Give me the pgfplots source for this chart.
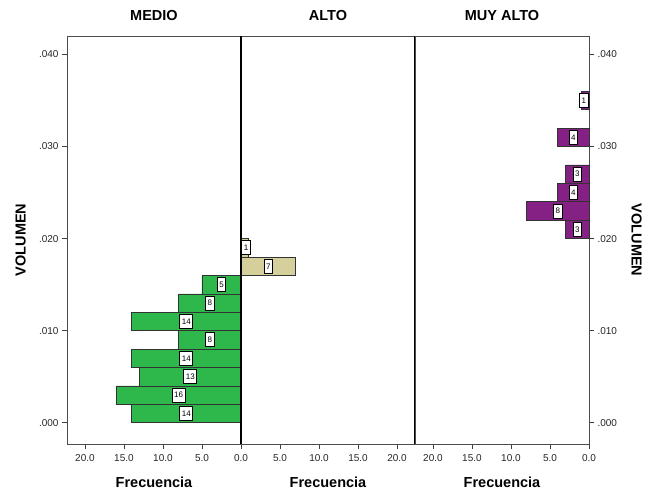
\documentclass[border=0pt]{standalone}
\usepackage{fontspec}
\setmainfont{Liberation Sans}
\usepackage{pgfplots}
\usepackage{pgfplotstable}
\pgfplotsset{compat=1.18}
\definecolor{cmedio}{RGB}{46,184,75}
\definecolor{calto}{RGB}{213,207,156}
\definecolor{cmuy}{RGB}{133,32,133}

\pgfplotstableread{
y f
0.001 14
0.003 16
0.005 13
0.007 14
0.009 8
0.011 14
0.013 8
0.015 5
}\medio
\pgfplotstableread{
y f
0.017 7
0.019 1
}\alto
\pgfplotstableread{
y f
0.021 3
0.023 8
0.025 4
0.027 3
0.031 4
0.035 1
}\muyalto

\pgfplotsset{
 panel/.style={
  scale only axis, width=174pt, height=408pt,
  xmin=0, xmax=22.3, ymin=-0.0023, ymax=0.0420,
  scaled y ticks=false, scaled x ticks=false,
  xtick={0,5,10,15,20}, xticklabels={0.0,5.0,10.0,15.0,20.0},
  ytick={0,0.01,0.02,0.03,0.04}, yticklabels={.000,.010,.020,.030,.040},
  tick align=outside, major tick length=5pt,
  xtick pos=bottom,
  tick style={black!75, line width=0.8pt},
  axis line style={black!70, line width=0.8pt},
  ticklabel style={font=\fontsize{10}{12}\selectfont, text=black!85},
  xticklabel style={yshift=-1.5pt},
  /pgf/number format/assume math mode=true,
  title style={font=\bfseries\fontsize{14.5}{16}\selectfont, at={(0.5,1)}, anchor=base, yshift=9pt},
  xlabel={Frecuencia},
  every axis x label/.style={at={(axis description cs:0.5,0)}, anchor=base, yshift=-43pt, font=\bfseries\fontsize{14.5}{16}\selectfont},
  clip=false,
  anchor=south west,
 },
 barsty/.style={xbar, bar width=0.002, bar shift=0pt, draw=black!80, line width=0.7pt, fill=#1},
 lab/.style={draw=none, nodes near coords, point meta=explicit symbolic,
   nodes near coords style={anchor=center, font=\fontsize{8}{9}\selectfont, fill=white, draw=black, line width=0.9pt, inner xsep=2pt, inner ysep=0pt, minimum height=14pt}},
}

\begin{document}
\begin{tikzpicture}
\path[use as bounding box] (0,0) rectangle (647pt,490pt);

% MEDIO
\begin{axis}[panel, at={(67pt,46pt)}, x dir=reverse, title={MEDIO},
  ytick pos=left,
  ylabel={VOLUMEN},
  every axis y label/.style={at={(axis description cs:-0.267,0.5)}, rotate=90, anchor=center, font=\bfseries\fontsize{14.5}{16}\selectfont}]
\addplot[barsty=cmedio] table[x=f, y=y] {\medio};
\addplot[lab] table[x expr={max(\thisrow{f}/2,0.65)}, y=y, meta=f] {\medio};
\end{axis}

% ALTO
\begin{axis}[panel, at={(241pt,46pt)}, title={ALTO}, ytick=\empty,
  xticklabels={,5.0,10.0,15.0,20.0}]
\addplot[barsty=calto] table[x=f, y=y] {\alto};
\addplot[lab] table[x expr={max(\thisrow{f}/2,0.65)}, y=y, meta=f] {\alto};
\draw[black, line width=1.3pt] (rel axis cs:0,0) -- (rel axis cs:0,1);
\draw[black, line width=1.3pt] (rel axis cs:1,0) -- (rel axis cs:1,1);
\end{axis}

% MUY ALTO
\begin{axis}[panel, at={(415pt,46pt)}, x dir=reverse, title={MUY ALTO},
  ytick pos=right, yticklabel pos=right,
  ylabel={VOLUMEN},
  every axis y label/.style={at={(axis description cs:1.273,0.5)}, rotate=-90, anchor=center, font=\bfseries\fontsize{14.5}{16}\selectfont}]
\addplot[barsty=cmuy] table[x=f, y=y] {\muyalto};
\addplot[lab] table[x expr={max(\thisrow{f}/2,0.65)}, y=y, meta=f] {\muyalto};
\end{axis}
\end{tikzpicture}
\end{document}
